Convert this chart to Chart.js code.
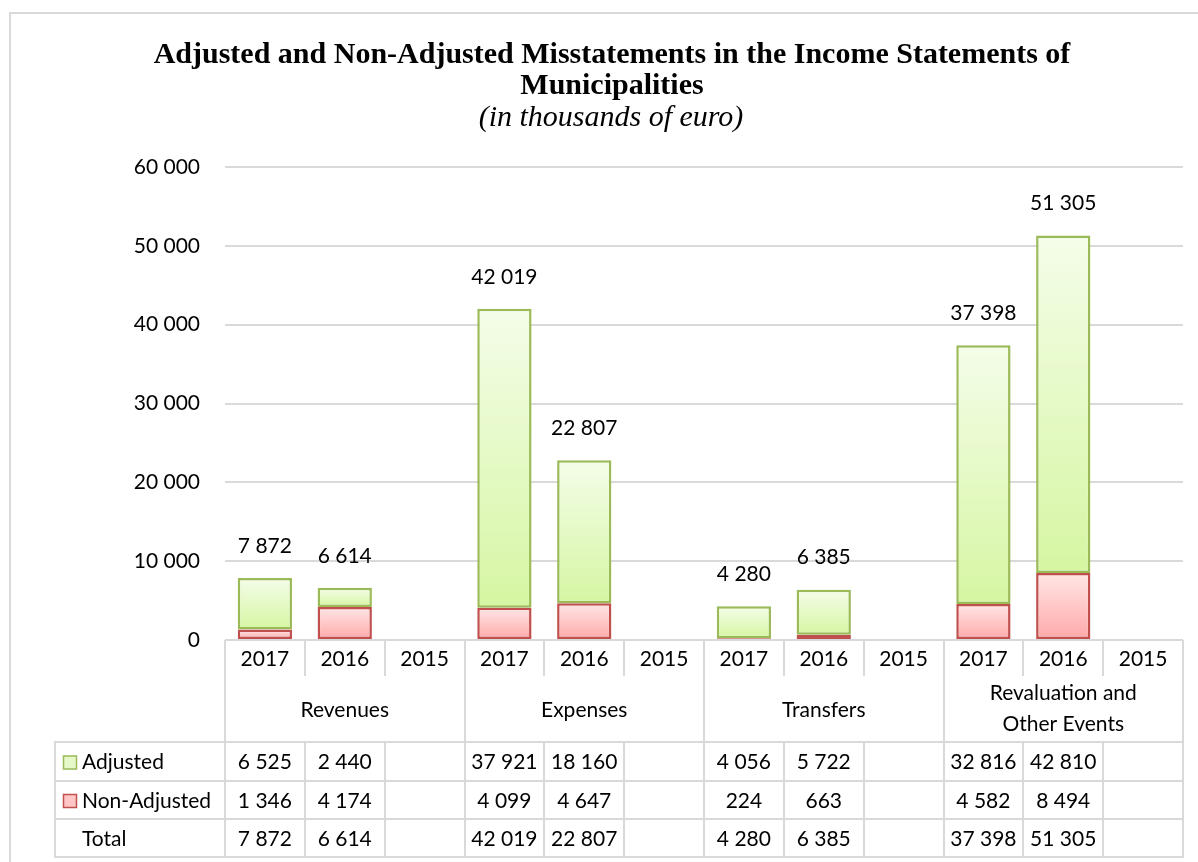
<!DOCTYPE html>
<html>
<head>
<meta charset="utf-8">
<script src="https://cdn.jsdelivr.net/npm/chart.js@4/dist/chart.umd.min.js"></script>
<style>
  body { margin: 0; background: #fff; }
  #chart { display: block; }
</style>
</head>
<body>
<canvas id="chart" width="1198" height="862"></canvas>
<script>
// ===== Data =====
const categories = ['Revenues', 'Expenses', 'Transfers', ['Revaluation and', 'Other Events']];
const years = ['2017', '2016', '2015'];
const adjusted    = [6525, 2440, null, 37921, 18160, null, 4056, 5722, null, 32816, 42810, null];
const nonAdjusted = [1346, 4174, null, 4099, 4647, null, 224, 663, null, 4582, 8494, null];
const totals      = [7872, 6614, null, 42019, 22807, null, 4280, 6385, null, 37398, 51305, null];
const yTicks = [0, 10000, 20000, 30000, 40000, 50000, 60000];

const labels = [];
categories.forEach(() => years.forEach(y => labels.push(y)));

const FONT = 'Lato';
const FSIZE = 21;
const GRID = '#D9D9D9';

function fmt(n) {
  if (n === null || n === undefined) return '';
  return String(n).replace(/\B(?=(\d{3})+(?!\d))/g, ' ');
}

// gradient for each bar segment, light on top
function segFill(ctx, lowVals, highVals, topColor, bottomColor) {
  const chart = ctx.chart;
  const y = chart.scales.y;
  const i = ctx.dataIndex;
  if (!y || i === undefined) return bottomColor;
  const lo = lowVals ? (lowVals[i] || 0) : 0;
  const hi = lo + (highVals[i] || 0);
  const yTop = y.getPixelForValue(hi);
  const yBot = y.getPixelForValue(lo);
  if (!isFinite(yTop) || !isFinite(yBot) || yTop === yBot) return bottomColor;
  const g = chart.ctx.createLinearGradient(0, yTop, 0, yBot);
  g.addColorStop(0, topColor);
  g.addColorStop(1, bottomColor);
  return g;
}

// ===== Title, labels, table =====
const extrasPlugin = {
  id: 'extras',
  afterDraw(chart) {
    const c = chart.ctx;
    const area = chart.chartArea;
    const x = chart.scales.x;
    const colW = (area.right - area.left) / labels.length;

    c.save();
    // outer border
    c.strokeStyle = GRID;
    c.lineWidth = 2;
    c.beginPath();
    c.moveTo(10, 862);
    c.lineTo(10, 13);
    c.lineTo(1198, 13);
    c.stroke();

    // title
    c.fillStyle = '#000';
    c.textAlign = 'center';
    c.textBaseline = 'middle';
    c.font = 'bold 30px "Liberation Serif"';
    c.fillText('Adjusted and Non-Adjusted Misstatements in the Income Statements of', 612, 55);
    c.fillText('Municipalities', 612, 86);
    c.font = 'italic 30px "Liberation Serif"';
    c.fillText('(in thousands of euro)', 611, 118);

    // totals above bars
    c.font = FSIZE + 'px ' + FONT;
    totals.forEach((t, i) => {
      if (t === null) return;
      const px = x.getPixelForValue(i);
      const py = chart.scales.y.getPixelForValue(t);
      c.fillText(fmt(t), px, py - 32);
    });

    // table geometry
    const top = area.bottom;
    const yearBottom = top + 36;
    const catBottom = 742;
    const rowH = [catBottom, 781, 819, 857];
    const left = 55;
    const edge = i => area.left + colW * i;

    c.strokeStyle = GRID;
    c.lineWidth = 2;
    c.beginPath();
    for (let i = 0; i <= labels.length; i++) {
      const ex = Math.round(edge(i));
      if (i % years.length === 0) {
        c.moveTo(ex, top); c.lineTo(ex, rowH[3]);
      } else {
        c.moveTo(ex, top); c.lineTo(ex, yearBottom);
        c.moveTo(ex, catBottom); c.lineTo(ex, rowH[3]);
      }
    }
    rowH.forEach(h => { c.moveTo(left, h); c.lineTo(Math.round(edge(labels.length)) + 1, h); });
    c.moveTo(left, catBottom - 1); c.lineTo(left, rowH[3] + 1);
    c.stroke();

    // year texts
    c.fillStyle = '#000';
    labels.forEach((lab, i) => c.fillText(lab, x.getPixelForValue(i), top + 19));

    // category texts
    categories.forEach((cat, k) => {
      const cx = (edge(k * 3) + edge(k * 3 + 3)) / 2;
      if (Array.isArray(cat)) {
        c.fillText(cat[0], cx, 693);
        c.fillText(cat[1], cx, 724);
      } else {
        c.fillText(cat, cx, 710);
      }
    });

    // data rows
    const rows = [
      { name: 'Adjusted', vals: adjusted, border: '#9BBB59', fill: '#E6F8C8' },
      { name: 'Non-Adjusted', vals: nonAdjusted, border: '#C0504D', fill: '#FFC6C6' },
      { name: 'Total', vals: totals }
    ];
    rows.forEach((r, k) => {
      const cy = (rowH[k] + rowH[k + 1]) / 2 + 1;
      if (r.border) {
        c.fillStyle = r.fill;
        c.fillRect(63, cy - 7, 14, 14);
        c.strokeStyle = r.border;
        c.lineWidth = 1.5;
        c.strokeRect(63.5, cy - 6.5, 13, 13);
      }
      c.fillStyle = '#000';
      c.textAlign = 'left';
      c.fillText(r.name, 82, cy);
      c.textAlign = 'center';
      r.vals.forEach((v, i) => c.fillText(fmt(v), x.getPixelForValue(i), cy));
    });
    c.restore();
  }
};

const ctx = document.getElementById('chart').getContext('2d');

const chart = new Chart(ctx, {
  type: 'bar',
  data: {
    labels: labels,
    datasets: [
      {
        label: 'Non-Adjusted',
        data: nonAdjusted,
        backgroundColor: c => segFill(c, null, nonAdjusted, '#FFE6E6', '#FFA8A8'),
        borderColor: '#C0504D',
        borderWidth: 2.5,
        borderSkipped: false
      },
      {
        label: 'Adjusted',
        data: adjusted,
        backgroundColor: c => segFill(c, nonAdjusted, adjusted, '#F4FDE9', '#D6F6A2'),
        borderColor: '#9BBB59',
        borderWidth: 2.5,
        borderSkipped: false
      }
    ]
  },
  options: {
    responsive: false,
    animation: false,
    layout: { padding: { top: 167, bottom: 222, left: 0, right: 15 } },
    datasets: { bar: { barPercentage: 0.68, categoryPercentage: 1 } },
    plugins: {
      legend: { display: false },
      tooltip: { enabled: false },
      title: { display: false }
    },
    scales: {
      x: { stacked: true, display: false },
      y: {
        stacked: true,
        min: 0,
        max: 60000,
        afterBuildTicks: s => { s.ticks = yTicks.map(v => ({ value: v })); },
        afterFit: s => { s.width = 225; },
        border: { display: false },
        grid: { color: GRID, lineWidth: 2, drawTicks: false },
        ticks: {
          padding: 25,
          color: '#000',
          font: { family: FONT, size: FSIZE },
          callback: v => fmt(v)
        }
      }
    }
  },
  plugins: [extrasPlugin]
});
</script>
</body>
</html>
